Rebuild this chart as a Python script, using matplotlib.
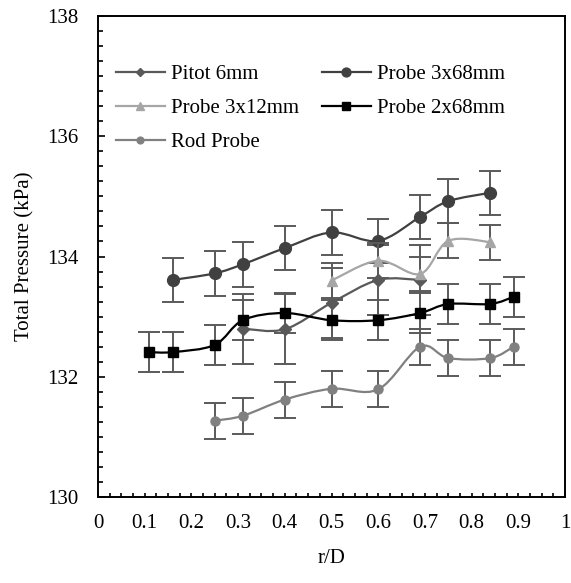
import numpy as np
import matplotlib
matplotlib.use("Agg")
import matplotlib.pyplot as plt
from matplotlib.path import Path
from matplotlib.patches import PathPatch
from matplotlib.lines import Line2D
from matplotlib.ticker import MultipleLocator

plt.rcParams["font.family"] = ["Liberation Serif", "DejaVu Serif"]
plt.rcParams["font.size"] = 15

# Radial positions (r/D) and total pressure readings (kPa)
pitot_x = [0.31, 0.40, 0.50, 0.60, 0.69]
pitot_y = [132.80, 132.79, 133.23, 133.61, 133.61]
pitot_err = 0.58

p3x68_x = [0.16, 0.25, 0.31, 0.40, 0.50, 0.60, 0.69, 0.75, 0.84]
p3x68_y = [133.61, 133.72, 133.87, 134.14, 134.40, 134.26, 134.66, 134.92, 135.06]
p3x68_err = 0.37

p3x12_x = [0.50, 0.60, 0.69, 0.75, 0.84]
p3x12_y = [133.60, 133.93, 133.71, 134.26, 134.24]
p3x12_err = 0.29

p2x68_x = [0.11, 0.16, 0.25, 0.31, 0.40, 0.50, 0.60, 0.69, 0.75, 0.84, 0.89]
p2x68_y = [132.41, 132.41, 132.53, 132.94, 133.06, 132.94, 132.94, 133.06, 133.21, 133.21, 133.33]
p2x68_err = 0.33

rod_x = [0.25, 0.31, 0.40, 0.50, 0.60, 0.69, 0.75, 0.84, 0.89]
rod_y = [131.27, 131.35, 131.62, 131.80, 131.79, 132.50, 132.31, 132.31, 132.50]
rod_err = 0.30

labels = ["Pitot 6mm", "Probe 3x68mm", "Probe 3x12mm", "Probe 2x68mm", "Rod Probe"]

ERR_COLOR = "#5a5a5a"


def smooth_path(xs, ys):
    """Cubic Bezier path through the points (Catmull-Rom style smoothing)."""
    p = np.column_stack([xs, ys]).astype(float)
    n = len(p)
    verts = [p[0]]
    codes = [Path.MOVETO]
    for i in range(n - 1):
        p_prev = p[i - 1] if i > 0 else p[i]
        p_next2 = p[i + 2] if i + 2 < n else p[i + 1]
        c1 = p[i] + (p[i + 1] - p_prev) / 6.0
        c2 = p[i + 1] - (p_next2 - p[i]) / 6.0
        verts += [c1, c2, p[i + 1]]
        codes += [Path.CURVE4] * 3
    return Path(verts, codes)


fig = plt.figure(figsize=(5.71, 5.83), dpi=100)
ax = fig.add_axes([98 / 571, 1 - 497 / 583, (565 - 98) / 571, (497 - 16) / 583])

series = [
    (pitot_x, pitot_y, pitot_err, "#595959", "D", 6.0),
    (p3x68_x, p3x68_y, p3x68_err, "#404040", "o", 8.5),
    (p3x12_x, p3x12_y, p3x12_err, "#a6a6a6", "^", 7.5),
    (p2x68_x, p2x68_y, p2x68_err, "#000000", "s", 7.0),
    (rod_x, rod_y, rod_err, "#808080", "o", 6.5),
]

handles = []
for k, (xs, ys, err, color, marker, ms) in enumerate(series):
    z = 3 + k
    ax.add_patch(PathPatch(smooth_path(xs, ys), fill=False, edgecolor=color,
                           linewidth=1.6, zorder=z))
    ax.errorbar(xs, ys, yerr=err, fmt="none", ecolor=ERR_COLOR,
                elinewidth=1.4, capsize=8.0, capthick=1.4, zorder=z)
    ax.plot(xs, ys, linestyle="none", marker=marker, markersize=ms,
            color=color, markeredgecolor=color, zorder=z + 0.5)
    handles.append(Line2D([], [], color=color, linewidth=1.6, marker=marker,
                          markersize=ms * 0.75))

ax.set_xlim(0, 1)
ax.set_ylim(130, 138)
ax.xaxis.set_major_locator(MultipleLocator(0.1))
ax.xaxis.set_minor_locator(MultipleLocator(0.025))
ax.yaxis.set_major_locator(MultipleLocator(2))
ax.yaxis.set_minor_locator(MultipleLocator(0.25))
ax.xaxis.set_major_formatter(plt.FuncFormatter(lambda v, _: f"{v:g}"))
ax.yaxis.set_major_formatter(plt.FuncFormatter(lambda v, _: f"{v:g}"))

ax.tick_params(axis="x", which="both", direction="in", length=3, width=1.2,
               pad=12, top=False)
ax.tick_params(axis="y", which="major", direction="in", length=5, width=1.2,
               pad=14, right=False)
ax.tick_params(axis="y", which="minor", direction="in", length=3.5, width=1.2,
               right=False)
for side in ax.spines.values():
    side.set_linewidth(1.4)

ax.set_xlabel("r/D", labelpad=12)
ax.set_ylabel("Total Pressure (kPa)", labelpad=9)

order = [0, 2, 4, 1, 3]
ax.legend([handles[i] for i in order], [labels[i] for i in order],
          ncol=2, loc="upper left", bbox_to_anchor=(0.0, 0.936),
          frameon=False, handlelength=2.35, handletextpad=0.3,
          labelspacing=0.7, columnspacing=1.1, borderaxespad=0.45)

fig.savefig("out.png", dpi=100)
